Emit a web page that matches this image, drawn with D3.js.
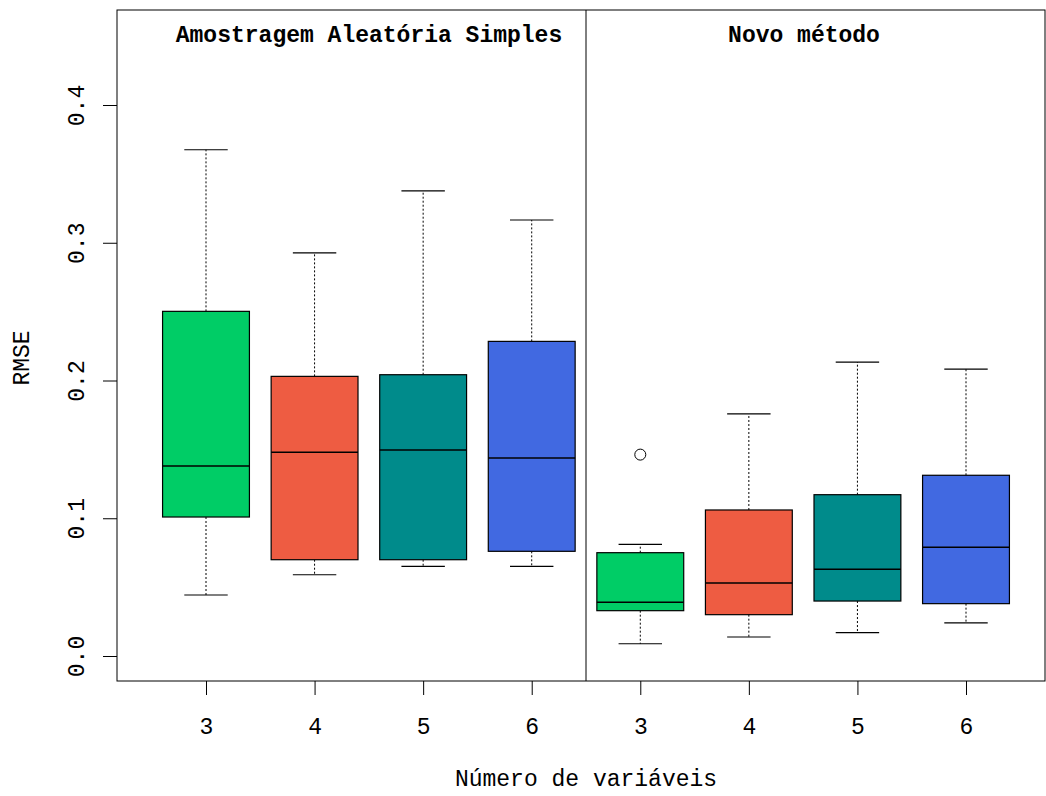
<!DOCTYPE html>
<html>
<head>
<meta charset="utf-8">
<script src="https://cdn.jsdelivr.net/npm/d3@7"></script>
<style>
  body { margin: 0; background: #fff; }
  svg { display: block; }
  text { font-family: "Liberation Mono", "Courier New", monospace; fill: #000; }
</style>
</head>
<body>
<svg id="chart" width="1046" height="796"></svg>
<script>
// Number of variables per group, and the two sampling schemes
const variables = ["3", "4", "5", "6"];
const methods = ["Amostragem Aleatória Simples", "Novo método"];
const boxColors = ["#00CD66", "#EE5C42", "#008B8B", "#4169E1"];

// Five-number summaries of RMSE: [lower whisker, Q1, median, Q3, upper whisker]
const srsStats = [
  [0.0443, 0.1009, 0.1379, 0.2502, 0.3675],
  [0.0590, 0.0699, 0.1480, 0.2030, 0.2926],
  [0.0651, 0.0699, 0.1495, 0.2042, 0.3376],
  [0.0651, 0.0760, 0.1437, 0.2284, 0.3165]
];
const newStats = [
  [0.0089, 0.0329, 0.0390, 0.0750, 0.0811],
  [0.0138, 0.0300, 0.0530, 0.1060, 0.1757],
  [0.0169, 0.0399, 0.0629, 0.1171, 0.2134],
  [0.0240, 0.0380, 0.0789, 0.1312, 0.2083]
];
// Outliers as [group index in the new method, value]
const newOutliers = [[0, 0.1462]];

const yTicks = [0.0, 0.1, 0.2, 0.3, 0.4];
const yLabel = "RMSE";
const xLabel = "Número de variáveis";

const svg = d3.select("#chart");
const plot = { left: 117, right: 1045, top: 10, bottom: 681 };

// Positions 1..8 along the x axis
const x = d3.scaleLinear().domain([1, 8]).range([206, 966]);
const step = x(2) - x(1);
const y = d3.scaleLinear().domain([0, 0.4]).range([656, 105]);

const groups = [];
srsStats.forEach((s, i) => groups.push({ pos: i + 1, stats: s, color: boxColors[i], label: variables[i] }));
newStats.forEach((s, i) => groups.push({ pos: i + 5, stats: s, color: boxColors[i], label: variables[i] }));

const boxW = step * 0.8;
const capW = step * 0.4;

const g = svg.append("g");

groups.forEach(d => {
  const [lo, q1, med, q3, hi] = d.stats;
  const cx = x(d.pos);
  // whiskers
  g.append("line").attr("x1", cx).attr("x2", cx).attr("y1", y(q3)).attr("y2", y(hi))
    .attr("stroke", "#000").attr("stroke-width", 1).attr("stroke-dasharray", "2,2");
  g.append("line").attr("x1", cx).attr("x2", cx).attr("y1", y(q1)).attr("y2", y(lo))
    .attr("stroke", "#000").attr("stroke-width", 1).attr("stroke-dasharray", "2,2");
  // caps
  [lo, hi].forEach(v => {
    g.append("line").attr("x1", cx - capW / 2).attr("x2", cx + capW / 2)
      .attr("y1", y(v)).attr("y2", y(v)).attr("stroke", "#000").attr("stroke-width", 1.2);
  });
  // box
  g.append("rect").attr("x", cx - boxW / 2).attr("y", y(q3))
    .attr("width", boxW).attr("height", y(q1) - y(q3))
    .attr("fill", d.color).attr("stroke", "#000").attr("stroke-width", 1.2);
  // median
  g.append("line").attr("x1", cx - boxW / 2).attr("x2", cx + boxW / 2)
    .attr("y1", y(med)).attr("y2", y(med)).attr("stroke", "#000").attr("stroke-width", 1.5);
});

newOutliers.forEach(([i, v]) => {
  g.append("circle").attr("cx", x(i + 5)).attr("cy", y(v)).attr("r", 5.5)
    .attr("fill", "none").attr("stroke", "#000").attr("stroke-width", 1);
});

// frame and panel divider
svg.append("rect").attr("x", plot.left).attr("y", plot.top)
  .attr("width", plot.right - plot.left).attr("height", plot.bottom - plot.top)
  .attr("fill", "none").attr("stroke", "#000").attr("stroke-width", 1);
svg.append("line").attr("x1", x(4.5)).attr("x2", x(4.5))
  .attr("y1", plot.top).attr("y2", plot.bottom).attr("stroke", "#000").attr("stroke-width", 1);

// y axis
const yAxis = d3.axisLeft(y).tickValues(yTicks).tickSize(14).tickSizeOuter(0).tickFormat(d3.format(".1f"));
const ya = svg.append("g").attr("transform", `translate(${plot.left},0)`).call(yAxis);
ya.select(".domain").remove();
ya.selectAll(".tick line").attr("stroke", "#000");
ya.selectAll(".tick text")
  .attr("font-size", 23).attr("font-family", "Liberation Mono, monospace")
  .attr("x", null).attr("dy", null).attr("text-anchor", "middle")
  .attr("transform", "translate(-33,0) rotate(-90)")
  .attr("y", 0);

// x axis
const xAxis = d3.axisBottom(x).tickValues(groups.map(d => d.pos))
  .tickFormat((d, i) => groups[i].label).tickSize(14).tickSizeOuter(0);
const xa = svg.append("g").attr("transform", `translate(0,${plot.bottom})`).call(xAxis);
xa.select(".domain").remove();
xa.selectAll(".tick line").attr("stroke", "#000");
xa.selectAll(".tick text").attr("font-size", 23).attr("font-family", "Liberation Mono, monospace")
  .attr("y", 53).attr("dy", null);

// panel titles
svg.append("text").attr("x", 369).attr("y", 42).attr("text-anchor", "middle")
  .attr("font-size", 23).attr("font-weight", "bold").text(methods[0]);
svg.append("text").attr("x", 804).attr("y", 42).attr("text-anchor", "middle")
  .attr("font-size", 23).attr("font-weight", "bold").text(methods[1]);

// axis titles
svg.append("text").attr("x", 586).attr("y", 786).attr("text-anchor", "middle")
  .attr("font-size", 23).text(xLabel);
svg.append("text").attr("transform", "translate(29,358) rotate(-90)").attr("text-anchor", "middle")
  .attr("font-size", 23).text(yLabel);
</script>
</body>
</html>
